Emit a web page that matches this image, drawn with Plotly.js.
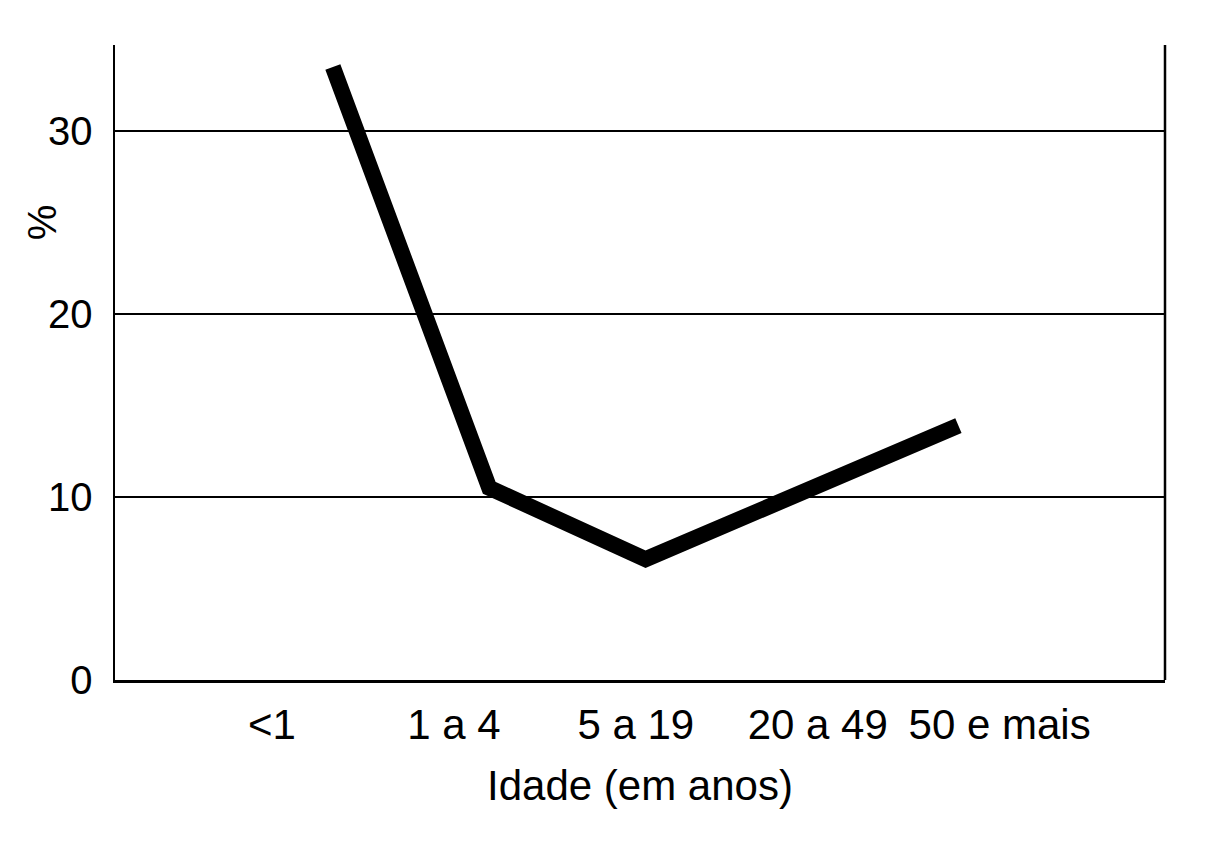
<!DOCTYPE html>
<html>
<head>
<meta charset="utf-8">
<script src="https://cdn.plot.ly/plotly-3.0.1.min.js"></script>
<style>
  body { margin: 0; background: #fff; }
  #chart { width: 1216px; height: 864px; }
</style>
</head>
<body>
<div id="chart"></div>
<script>
// faixas etarias e percentuais
const faixas = ['<1', '1 a 4', '5 a 19', '20 a 49', '50 e mais'];
const percentual = [33.5, 10.5, 6.6, 10.2, 13.9];
const yTicks = [0, 10, 20, 30];

const fonte = { family: 'Liberation Sans, Arial, sans-serif', size: 40, color: '#000' };
const fonteX = { family: 'Liberation Sans, Arial, sans-serif', size: 42, color: '#000' };

// traco sem marca, so para o eixo dos rotulos existir
const rotulos = {
  x: faixas,
  y: percentual,
  xaxis: 'x',
  yaxis: 'y',
  type: 'scatter',
  mode: 'none',
  hoverinfo: 'skip',
  showlegend: false
};

const linha = {
  x: faixas,
  y: percentual,
  xaxis: 'x2',
  yaxis: 'y',
  type: 'scatter',
  mode: 'lines',
  line: { color: '#000', width: 16 },
  hoverinfo: 'skip',
  showlegend: false
};

const layout = {
  width: 1216,
  height: 864,
  margin: { l: 115, r: 51, t: 45, b: 184 },
  paper_bgcolor: '#fff',
  plot_bgcolor: '#fff',
  font: fonte,
  showlegend: false,
  // eixo dos rotulos (no desenho original as marcas nao ficam sob os vertices)
  xaxis: {
    type: 'category',
    range: [-0.863, 4.909],
    showgrid: false,
    zeroline: false,
    showline: true,
    linecolor: '#000',
    linewidth: 2.5,
    ticks: '',
    ticklabelstandoff: 6,
    tickfont: fonteX,
    title: { text: 'Idade (em anos)', font: fonteX, standoff: 24 },
    fixedrange: true
  },
  xaxis2: {
    type: 'category',
    overlaying: 'x',
    range: [-1.393, 5.321],
    visible: false,
    fixedrange: true
  },
  yaxis: {
    range: [0, 34.7],
    tickvals: yTicks,
    showgrid: true,
    gridcolor: '#000',
    gridwidth: 2.5,
    zeroline: false,
    showline: true,
    linecolor: '#000',
    linewidth: 2.5,
    ticks: '',
    ticklabelstandoff: 12,
    tickfont: fonte,
    fixedrange: true
  },
  shapes: [
    { type: 'line', xref: 'paper', yref: 'paper', x0: 1, x1: 1, y0: 0, y1: 1,
      line: { color: '#000', width: 2.5 } }
  ],
  annotations: [
    { text: '%', xref: 'paper', yref: 'paper', x: -0.0695, y: 0.721,
      textangle: -90, showarrow: false, font: fonte,
      xanchor: 'center', yanchor: 'middle' }
  ]
};

Plotly.newPlot('chart', [rotulos, linha], layout, { displayModeBar: false, staticPlot: true });
</script>
</body>
</html>
